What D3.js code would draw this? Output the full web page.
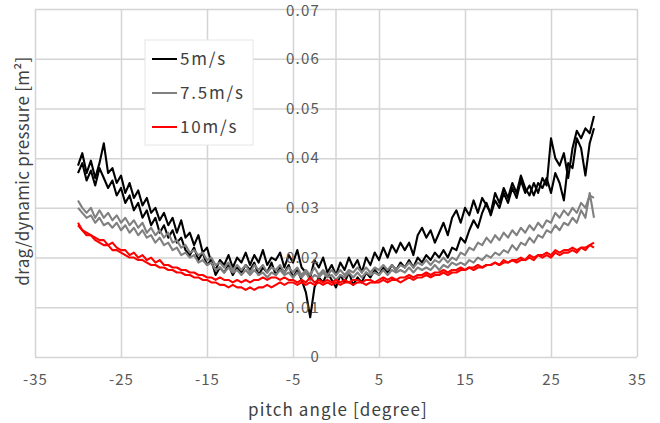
<!DOCTYPE html>
<html>
<head>
<meta charset="utf-8">
<script src="https://cdn.jsdelivr.net/npm/d3@7"></script>
<style>
  html, body { margin: 0; padding: 0; background: #fff; }
  svg { display: block; font-family: "Noto Sans CJK JP", "Noto Sans", sans-serif; }
</style>
</head>
<body>
<svg id="chart" width="660" height="423"></svg>
<script>
// Pitch angle sweep, -30° to 30° in 0.5° steps
const angles = d3.range(-30, 30.25, 0.5);

// drag / dynamic pressure [m²], two sweeps per flow speed
const speed5a = [
  0.0385,0.041,0.037,0.0395,0.036,0.039,0.043,0.037,0.038,0.035,
  0.0365,0.033,0.035,0.032,0.0335,0.0305,0.032,0.029,0.030,0.0275,
  0.029,0.0265,0.028,0.025,0.0275,0.024,0.025,0.0225,0.0245,0.021,
  0.022,0.019,0.0175,0.0195,0.0185,0.0205,0.018,0.020,0.019,0.021,
  0.0185,0.0205,0.019,0.0215,0.0185,0.020,0.0195,0.021,0.018,0.0205,
  0.019,0.0215,0.018,0.017,0.016,0.0195,0.018,0.020,0.017,0.0185,
  0.0165,0.019,0.0175,0.020,0.018,0.0195,0.017,0.020,0.0185,0.021,
  0.0195,0.022,0.020,0.0225,0.021,0.023,0.0215,0.023,0.0205,0.0245,
  0.026,0.024,0.0255,0.023,0.025,0.027,0.0245,0.028,0.0295,0.027,
  0.030,0.0285,0.0315,0.029,0.032,0.0305,0.029,0.033,0.031,0.034,
  0.032,0.035,0.033,0.0365,0.034,0.0325,0.035,0.033,0.036,0.0345,
  0.044,0.040,0.0385,0.041,0.036,0.042,0.0455,0.044,0.046,0.045,
  0.0485
];
const speed5b = [
  0.037,0.039,0.0355,0.0375,0.0345,0.038,0.036,0.034,0.0355,0.0325,
  0.034,0.031,0.0325,0.0295,0.031,0.028,0.0295,0.0265,0.028,0.025,
  0.0265,0.024,0.0255,0.023,0.024,0.0215,0.0205,0.022,0.0195,0.021,
  0.0185,0.0195,0.0165,0.018,0.017,0.0185,0.0165,0.018,0.017,0.0185,
  0.0175,0.019,0.0165,0.018,0.017,0.019,0.0165,0.018,0.017,0.0185,
  0.016,0.0175,0.0155,0.013,0.008,0.014,0.016,0.015,0.017,0.0155,
  0.014,0.0165,0.015,0.017,0.0145,0.016,0.015,0.017,0.016,0.0175,
  0.0165,0.018,0.017,0.0185,0.0175,0.019,0.018,0.0195,0.018,0.020,
  0.019,0.0205,0.0195,0.021,0.020,0.0215,0.020,0.022,0.0215,0.024,
  0.023,0.0255,0.0275,0.026,0.029,0.031,0.0285,0.0315,0.030,0.033,
  0.031,0.034,0.032,0.0355,0.033,0.0345,0.0325,0.035,0.034,0.036,
  0.033,0.037,0.035,0.0315,0.039,0.038,0.044,0.042,0.0365,0.043,
  0.046
];
const speed75a = [
  0.0315,0.030,0.029,0.030,0.028,0.0295,0.028,0.029,0.0275,0.0285,
  0.027,0.028,0.0265,0.0275,0.026,0.027,0.025,0.026,0.0245,0.0255,
  0.024,0.025,0.023,0.0235,0.022,0.0225,0.021,0.0215,0.0205,0.021,
  0.0195,0.020,0.0185,0.019,0.018,0.019,0.0175,0.0185,0.0175,0.0185,
  0.017,0.0185,0.0175,0.0185,0.017,0.018,0.0175,0.0185,0.017,0.018,
  0.017,0.018,0.0165,0.0175,0.0165,0.018,0.0165,0.0175,0.0165,0.0175,
  0.0165,0.0175,0.0165,0.0175,0.017,0.018,0.017,0.018,0.017,0.018,
  0.0175,0.0185,0.0175,0.0185,0.0175,0.0185,0.018,0.019,0.018,0.019,
  0.0185,0.0195,0.0185,0.0195,0.019,0.020,0.019,0.020,0.0195,0.021,
  0.0205,0.022,0.0215,0.023,0.0225,0.024,0.023,0.0245,0.0235,0.025,
  0.024,0.0255,0.0245,0.026,0.025,0.0265,0.0255,0.027,0.026,0.0275,
  0.027,0.029,0.028,0.0295,0.0285,0.030,0.029,0.031,0.030,0.0325,
  0.032
];
const speed75b = [
  0.030,0.029,0.028,0.0285,0.027,0.028,0.0265,0.027,0.026,0.027,
  0.0255,0.0265,0.025,0.026,0.0245,0.0255,0.024,0.0245,0.023,0.024,
  0.0225,0.023,0.0215,0.022,0.0205,0.021,0.020,0.0205,0.019,0.0195,
  0.0185,0.019,0.0175,0.018,0.017,0.018,0.017,0.0175,0.0165,0.0175,
  0.0165,0.0175,0.0165,0.017,0.016,0.017,0.0165,0.0175,0.0165,0.017,
  0.016,0.017,0.016,0.017,0.0155,0.0165,0.016,0.017,0.016,0.0165,
  0.0155,0.0165,0.016,0.017,0.016,0.017,0.016,0.017,0.0165,0.017,
  0.0165,0.0175,0.0165,0.0175,0.017,0.0175,0.017,0.018,0.017,0.018,
  0.0175,0.018,0.0175,0.0185,0.0175,0.0185,0.018,0.019,0.0185,0.019,
  0.0185,0.0195,0.019,0.020,0.0195,0.0205,0.020,0.021,0.0205,0.0215,
  0.021,0.0225,0.0215,0.023,0.0225,0.024,0.023,0.0245,0.024,0.0255,
  0.025,0.0265,0.0255,0.027,0.0265,0.028,0.027,0.0295,0.028,0.033,
  0.028
];
const speed10a = [
  0.027,0.0255,0.025,0.0245,0.024,0.0235,0.0235,0.0225,0.023,0.022,
  0.0215,0.0215,0.0205,0.021,0.020,0.0205,0.0195,0.020,0.019,0.0195,
  0.0185,0.0185,0.018,0.018,0.0175,0.0175,0.017,0.017,0.0165,0.0165,
  0.016,0.016,0.0155,0.016,0.0155,0.0155,0.015,0.0155,0.015,0.0155,
  0.015,0.0155,0.0155,0.016,0.0155,0.016,0.016,0.0155,0.016,0.0155,
  0.0155,0.015,0.0155,0.015,0.016,0.015,0.0155,0.015,0.0155,0.015,
  0.0155,0.015,0.0155,0.015,0.0155,0.0155,0.015,0.0155,0.0155,0.015,
  0.0155,0.016,0.0155,0.016,0.0155,0.016,0.016,0.0165,0.016,0.0165,
  0.0165,0.017,0.0165,0.017,0.017,0.0175,0.017,0.0175,0.0175,0.018,
  0.0175,0.018,0.018,0.0185,0.018,0.0185,0.0185,0.019,0.0185,0.019,
  0.019,0.0195,0.019,0.0195,0.0195,0.020,0.0195,0.0205,0.020,0.0205,
  0.020,0.021,0.0205,0.021,0.021,0.0215,0.021,0.022,0.0215,0.0225,
  0.023
];
const speed10b = [
  0.0265,0.0255,0.0245,0.0245,0.0235,0.023,0.0225,0.0225,0.0215,0.0215,
  0.021,0.0205,0.020,0.020,0.0195,0.0195,0.019,0.0185,0.0185,0.018,
  0.018,0.0175,0.0175,0.017,0.017,0.0165,0.0165,0.016,0.016,0.0155,
  0.0155,0.015,0.015,0.0145,0.0145,0.014,0.0145,0.014,0.014,0.0135,
  0.014,0.0135,0.014,0.014,0.0145,0.014,0.0145,0.015,0.0145,0.015,
  0.015,0.0145,0.015,0.0145,0.015,0.0145,0.015,0.0145,0.015,0.0145,
  0.015,0.0145,0.015,0.015,0.0145,0.015,0.015,0.0145,0.015,0.015,
  0.015,0.0155,0.015,0.0155,0.0155,0.015,0.0155,0.016,0.0155,0.016,
  0.016,0.0165,0.016,0.0165,0.0165,0.017,0.0165,0.017,0.017,0.0175,
  0.0175,0.018,0.0175,0.018,0.018,0.0185,0.0185,0.019,0.0185,0.0195,
  0.019,0.0195,0.0195,0.020,0.0195,0.0205,0.020,0.0205,0.0205,0.021,
  0.0205,0.0215,0.021,0.0215,0.0215,0.022,0.0215,0.022,0.022,0.0225,
  0.022
];

const xTicks = [-35, -25, -15, -5, 5, 15, 25, 35];
const yTicks = [0, 0.01, 0.02, 0.03, 0.04, 0.05, 0.06, 0.07];

const seriesNames = ["5m/s", "7.5m/s", "10m/s"];
const seriesColors = ["#000000", "#808080", "#ff0000"];
const seriesSweeps = [[speed5a, speed5b], [speed75a, speed75b], [speed10a, speed10b]];

const svg = d3.select("#chart");
const plot = { left: 35, right: 637, top: 9, bottom: 357 };

const x = d3.scaleLinear().domain([-35, 35]).range([plot.left, plot.right]);
const y = d3.scaleLinear().domain([0, 0.07]).range([plot.bottom, plot.top]);

const gridColor = "#d4d4d4";

// vertical grid
svg.append("g")
  .attr("transform", `translate(0,${plot.bottom})`)
  .call(d3.axisBottom(x).tickValues(xTicks).tickSize(-(plot.bottom - plot.top)).tickFormat(""))
  .call(g => g.select(".domain").remove())
  .call(g => g.selectAll("line").attr("stroke", gridColor).attr("stroke-width", 1.5));

// horizontal grid
svg.append("g")
  .attr("transform", `translate(${plot.left},0)`)
  .call(d3.axisLeft(y).tickValues(yTicks).tickSize(-(plot.right - plot.left)).tickFormat(""))
  .call(g => g.select(".domain").remove())
  .call(g => g.selectAll("line").attr("stroke", gridColor).attr("stroke-width", 1.5));

// vertical axis line through zero pitch
svg.append("line")
  .attr("x1", x(0)).attr("x2", x(0))
  .attr("y1", y(0)).attr("y2", y(0.07))
  .attr("stroke", gridColor).attr("stroke-width", 1.5);

// data lines
const line = d3.line()
  .x((d, i) => x(angles[i]))
  .y(d => y(d));

seriesSweeps.forEach((sweeps, s) => {
  sweeps.forEach(vals => {
    svg.append("path")
      .datum(vals)
      .attr("d", line)
      .attr("fill", "none")
      .attr("stroke", seriesColors[s])
      .attr("stroke-width", 2.1)
      .attr("stroke-linejoin", "round");
  });
});

// y tick labels beside the zero axis
const yAxis = svg.append("g")
  .attr("transform", `translate(${x(0)},0)`)
  .call(d3.axisLeft(y).tickValues(yTicks).tickSize(0).tickPadding(16)
    .tickFormat(v => v === 0 ? "0" : d3.format(".2f")(v)));
yAxis.select(".domain").remove();
yAxis.selectAll("text")
  .attr("fill", "#595959")
  .style("font-size", "15px")
  .style("letter-spacing", "1.2px")
  .style("font-family", "'Noto Sans CJK JP', sans-serif");
yAxis.selectAll(".tick").filter(d => d === 0.07).select("text").attr("dy", "0.45em");

// x tick labels (plain hyphen for negatives)
const xAxis = svg.append("g")
  .attr("transform", `translate(0,${plot.bottom})`)
  .call(d3.axisBottom(x).tickValues(xTicks).tickSize(0).tickPadding(17)
    .tickFormat(v => String(v)));
xAxis.select(".domain").remove();
xAxis.selectAll("text")
  .attr("fill", "#595959")
  .style("font-size", "15px")
  .style("letter-spacing", "1px")
  .style("font-family", "'Noto Sans CJK JP', sans-serif");

// axis titles
svg.append("text")
  .attr("x", 338).attr("y", 416)
  .attr("text-anchor", "middle")
  .attr("fill", "#404040")
  .style("font-size", "17px")
  .style("letter-spacing", "1.1px")
  .text("pitch angle [degree]");

svg.append("text")
  .attr("transform", `translate(29,171) rotate(-90)`)
  .attr("text-anchor", "middle")
  .attr("fill", "#404040")
  .style("font-size", "17px")
  .style("letter-spacing", "0.3px")
  .text("drag/dynamic pressure [m²]");

// legend
const legend = svg.append("g");
legend.append("rect")
  .attr("x", 145).attr("y", 40).attr("width", 108).attr("height", 105)
  .attr("fill", "#ffffff").attr("stroke", "#e6e6e6").attr("stroke-width", 1);

seriesNames.forEach((name, i) => {
  const ly = 59 + i * 34;
  legend.append("line")
    .attr("x1", 152).attr("x2", 177)
    .attr("y1", ly).attr("y2", ly)
    .attr("stroke", seriesColors[i]).attr("stroke-width", 2);
  legend.append("text")
    .attr("x", 180).attr("y", ly)
    .attr("dy", "0.35em")
    .attr("fill", "#404040")
    .style("font-size", "17px")
    .style("letter-spacing", "1.8px")
    .text(name);
});
</script>
</body>
</html>
